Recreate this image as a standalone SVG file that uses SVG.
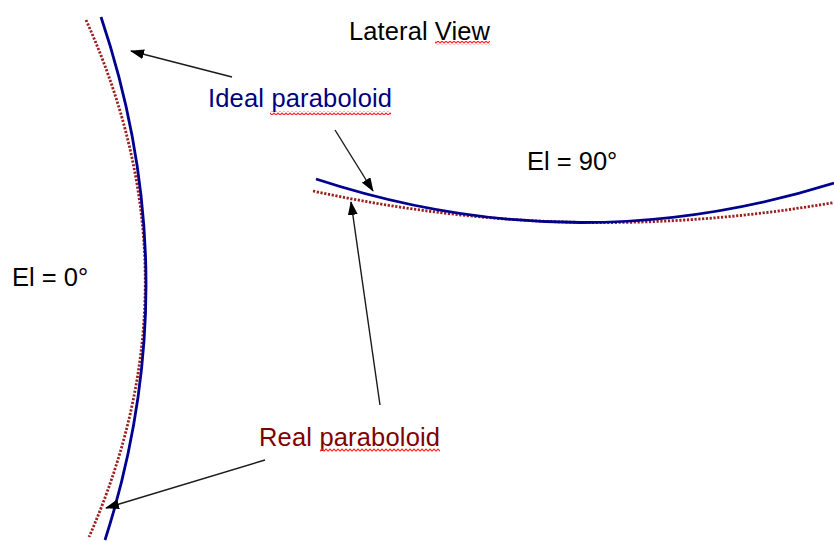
<svg xmlns="http://www.w3.org/2000/svg" width="834" height="541" viewBox="0 0 834 541">
<style>
text{font-family:"Liberation Sans",Arial,sans-serif;font-size:25.5px}
.ideal{fill:none;stroke:#00008f;stroke-width:2.8}
.real{fill:none;stroke:#9a1f1f;stroke-width:2.8;stroke-dasharray:2.2 1.6}
.arrow{fill:none;stroke:#1a1a1a;stroke-width:1.4;marker-end:url(#ah)}
.sq{fill:url(#wave)}
</style>
<defs>
<marker id="ah" viewBox="0 0 14 10" refX="13" refY="5" markerUnits="userSpaceOnUse" markerWidth="14" markerHeight="10" orient="auto">
<path d="M0 0 L14 5 L0 10 Z" fill="#000"/>
</marker>
<pattern id="wave" patternUnits="userSpaceOnUse" width="4" height="4">
<path d="M-1 2.5 L0 3 L2 1 L4 3 L5 2.5" fill="none" stroke="#ff2020" stroke-width="1.1"/>
</pattern>
</defs>
<g id="curves">
<path class="real" d="M86 20 Q203 278.5 89 537"/>
<path class="ideal" d="M101 17 Q189 278.5 105 540"/>
<path class="real" d="M313 191 Q573.5 247.7 834 202.5"/>
<path class="ideal" d="M316 179 Q575 264 834 183"/>
</g>
<g id="connectors">
<line class="arrow" x1="232" y1="77" x2="131" y2="51"/>
<line class="arrow" x1="335" y1="130" x2="373" y2="191"/>
<line class="arrow" x1="380" y1="405" x2="351" y2="202"/>
<line class="arrow" x1="265" y1="460" x2="106" y2="508"/>
</g>
<g id="title">
<text x="349" y="39.5" textLength="141">Lateral View</text>
<rect class="sq" x="435" y="41" width="55" height="4"/>
</g>
<g id="ideal-label">
<text x="208" y="107" fill="#000080" textLength="184">Ideal paraboloid</text>
<rect class="sq" x="270" y="111" width="121" height="4"/>
</g>
<g id="real-label">
<text x="259" y="445.5" fill="#800000" textLength="181">Real paraboloid</text>
<rect class="sq" x="320" y="448" width="120" height="4"/>
</g>
<g id="el90">
<text x="527" y="170">El = 90°</text>
</g>
<g id="el0">
<text x="12" y="285.5">El = 0°</text>
</g>
</svg>
